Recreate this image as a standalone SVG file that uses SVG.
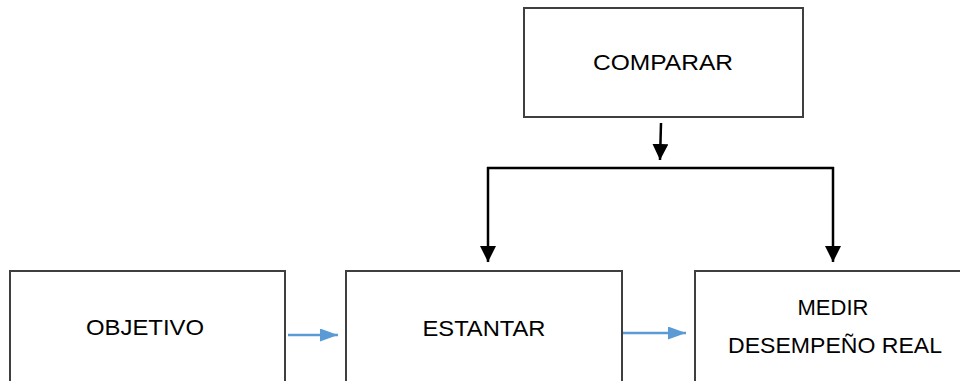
<svg xmlns="http://www.w3.org/2000/svg" width="960" height="381" viewBox="0 0 960 381">
<defs>
<style>
.box{fill:#fff;stroke:#3f3f3f;stroke-width:2}
.lbl{font-family:"Liberation Sans",Arial,sans-serif;font-size:22px;fill:#000;text-anchor:middle}
.blk{stroke:#000;stroke-width:2.5;fill:none}
.blu{stroke:#5b9bd5;stroke-width:2.5;fill:none}
</style>
<marker id="ab" markerUnits="userSpaceOnUse" markerWidth="16" markerHeight="16" viewBox="0 0 16 16" refX="16" refY="8" orient="auto"><path d="M0,0 L16,8 L0,16 Z" fill="#000"/></marker>
<marker id="au" markerUnits="userSpaceOnUse" markerWidth="18" markerHeight="13" viewBox="0 0 18 13" refX="18" refY="6.5" orient="auto"><path d="M0,0 L18,6.5 L0,13 Z" fill="#5b9bd5"/></marker>
</defs>
<g id="comparar"><rect class="box" x="524" y="8" width="279" height="109"/><text class="lbl" x="663" y="70" textLength="140" lengthAdjust="spacingAndGlyphs">COMPARAR</text></g>
<g id="objetivo"><rect class="box" x="10" y="271" width="275" height="130"/><text class="lbl" x="145" y="335" textLength="118" lengthAdjust="spacingAndGlyphs">OBJETIVO</text></g>
<g id="estantar"><rect class="box" x="346" y="271" width="276" height="130"/><text class="lbl" x="484" y="336" textLength="123" lengthAdjust="spacingAndGlyphs">ESTANTAR</text></g>
<g id="medir"><rect class="box" x="695" y="271" width="300" height="130"/><text class="lbl" x="833" y="315">MEDIR</text><text class="lbl" x="835" y="353" textLength="214" lengthAdjust="spacingAndGlyphs">DESEMPEÑO REAL</text></g>
<g id="connectors">
<line class="blk" x1="661" y1="123" x2="660" y2="160" marker-end="url(#ab)"/>
<line class="blk" x1="487" y1="168" x2="834" y2="168"/>
<line class="blk" x1="488" y1="167" x2="488" y2="262" marker-end="url(#ab)"/>
<line class="blk" x1="833" y1="167" x2="833" y2="262" marker-end="url(#ab)"/>
<line class="blu" x1="288" y1="335" x2="338" y2="335" marker-end="url(#au)"/>
<line class="blu" x1="623" y1="333" x2="686" y2="333" marker-end="url(#au)"/>
</g>
</svg>
